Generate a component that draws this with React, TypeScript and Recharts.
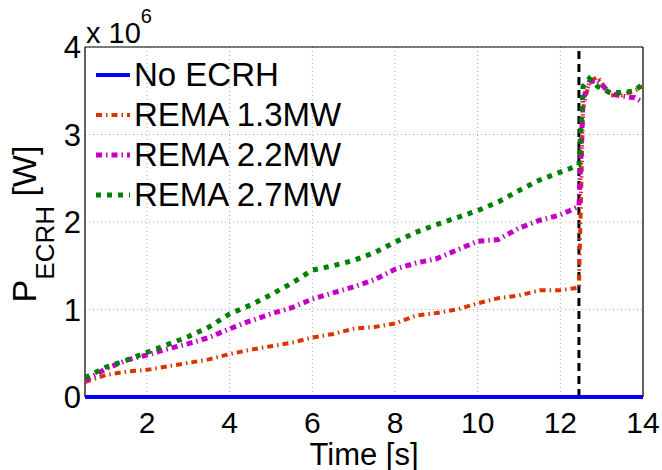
import {
  LineChart,
  Line,
  XAxis,
  YAxis,
  CartesianGrid,
  ReferenceLine,
  Legend,
} from 'recharts'

// time axis [s]
const time = [
  0.5, 1, 1.5, 2, 2.5, 3, 3.5, 4, 4.5, 5, 5.5, 6, 6.5, 7, 7.5, 8, 8.5, 9, 9.5, 10,
  10.5, 11, 11.5, 12, 12.45, 12.55, 12.7, 12.9, 13.2, 13.5, 13.8, 14,
]

// P_ECRH in units of 1e6 W
const noEcrh = time.map(() => 0)
const rema13 = [
  0.17, 0.25, 0.29, 0.31, 0.35, 0.39, 0.43, 0.49, 0.54, 0.58, 0.62, 0.68, 0.72, 0.78, 0.8, 0.84,
  0.93, 0.96, 1.0, 1.07, 1.13, 1.16, 1.22, 1.22, 1.25, 3.3, 3.6, 3.66, 3.45, 3.45, 3.5, 3.55,
]
const rema22 = [
  0.19, 0.32, 0.42, 0.48, 0.55, 0.61, 0.68, 0.78, 0.87, 0.95, 1.02, 1.12, 1.19, 1.26, 1.34, 1.46,
  1.53, 1.58, 1.68, 1.78, 1.8, 1.93, 2.02, 2.08, 2.18, 3.4, 3.6, 3.62, 3.47, 3.44, 3.42, 3.37,
]
const rema27 = [
  0.22, 0.34, 0.42, 0.51, 0.6, 0.69, 0.8, 0.95, 1.05, 1.17, 1.3, 1.45, 1.5, 1.56, 1.65, 1.77,
  1.88, 1.97, 2.05, 2.13, 2.23, 2.36, 2.48, 2.57, 2.65, 3.55, 3.64, 3.55, 3.48, 3.48, 3.5, 3.58,
]

const xDomain = [0.5, 14]
const yDomain = [0, 4]
const xTicks = [2, 4, 6, 8, 10, 12, 14]
const yTicks = [0, 1, 2, 3, 4]
const switchTime = 12.45

const data = time.map((t, i) => ({
  t,
  none: noEcrh[i],
  r13: rema13[i],
  r22: rema22[i],
  r27: rema27[i],
}))

const SERIES = [
  { key: 'none', name: 'No ECRH', color: '#0000ff', width: 4, dash: undefined },
  { key: 'r13', name: 'REMA 1.3MW', color: '#dd3300', width: 4, dash: '6 4 1.5 4' },
  { key: 'r22', name: 'REMA 2.2MW', color: '#c400c4', width: 5, dash: '6 4 1.5 4' },
  { key: 'r27', name: 'REMA 2.7MW', color: '#008000', width: 5, dash: '5 6' },
]

const FONT = "'Liberation Sans', Arial, sans-serif"
const TICK_LINE = { stroke: '#000', strokeWidth: 1.2 }

function LegendBox() {
  return (
    <div style={{ fontFamily: FONT, fontSize: 33, lineHeight: '40px', color: '#000' }}>
      {SERIES.map((s) => (
        <div key={s.key} style={{ display: 'flex', alignItems: 'center', height: 40 }}>
          <svg width={40} height={40} style={{ marginRight: 2 }}>
            <line
              x1={4}
              x2={38}
              y1={20}
              y2={20}
              stroke={s.color}
              strokeWidth={s.width}
              strokeDasharray={s.dash}
            />
          </svg>
          <span>{s.name}</span>
        </div>
      ))}
    </div>
  )
}

function YTitle() {
  return (
    <g fontFamily={FONT} fill="#000">
      <text transform="translate(36,224) rotate(-90)" textAnchor="middle" fontSize={34}>
        P<tspan fontSize={26} dy={18}>ECRH</tspan>
        <tspan dy={-18}> [W]</tspan>
      </text>
      <text x={86} y={43} fontSize={29}>
        x 10<tspan fontSize={20} dy={-20}>6</tspan>
      </text>
    </g>
  )
}

function XTitle() {
  return (
    <text x={364} y={465} textAnchor="middle" fontFamily={FONT} fontSize={31} fill="#000">
      Time [s]
    </text>
  )
}

export default function App() {
  return (
    <div style={{ position: 'absolute', left: 0, top: 0, background: '#fff' }}>
      <LineChart
        width={662}
        height={470}
        data={data}
        margin={{ top: 47, right: 19, left: 25, bottom: 33 }}
        style={{ fontFamily: FONT }}
      >
        <CartesianGrid stroke="#aaaaaa" strokeDasharray="1 3" />
        <XAxis
          dataKey="t"
          type="number"
          domain={xDomain}
          ticks={xTicks}
          allowDataOverflow
          height={40}
          axisLine={false}
          tickLine={false}
          tickSize={2}
          tickMargin={13}
          tick={{ fontSize: 30, fill: '#000' }}
          label={{ content: <XTitle /> }}
        />
        {/* inward tick marks, bottom and top */}
        <XAxis
          xAxisId="bt"
          dataKey="t"
          type="number"
          orientation="bottom"
          mirror
          domain={xDomain}
          ticks={xTicks}
          allowDataOverflow
          height={0}
          axisLine={false}
          tickLine={TICK_LINE}
          tickSize={6}
          tick={false}
        />
        <XAxis
          xAxisId="tt"
          dataKey="t"
          type="number"
          orientation="top"
          mirror
          domain={xDomain}
          ticks={xTicks}
          allowDataOverflow
          height={0}
          axisLine={false}
          tickLine={TICK_LINE}
          tickSize={6}
          tick={false}
        />
        <YAxis
          type="number"
          domain={yDomain}
          ticks={yTicks}
          width={60}
          axisLine={false}
          tickLine={false}
          tickSize={2}
          tickMargin={2}
          tick={{ fontSize: 31, fill: '#000' }}
          label={{ content: <YTitle /> }}
        />
        <YAxis
          yAxisId="lt"
          type="number"
          orientation="left"
          mirror
          domain={yDomain}
          ticks={yTicks}
          width={0}
          axisLine={false}
          tickLine={TICK_LINE}
          tickSize={6}
          tick={false}
        />
        <YAxis
          yAxisId="rt"
          type="number"
          orientation="right"
          mirror
          domain={yDomain}
          ticks={yTicks}
          width={0}
          axisLine={false}
          tickLine={TICK_LINE}
          tickSize={6}
          tick={false}
        />
        <Legend
          layout="vertical"
          align="center"
          verticalAlign="middle"
          wrapperStyle={{ left: 92, top: 55, width: 'auto' }}
          content={<LegendBox />}
        />
        {/* axes box */}
        <ReferenceLine x={xDomain[0]} stroke="#000" strokeWidth={1.2} />
        <ReferenceLine x={xDomain[1]} stroke="#000" strokeWidth={1.2} />
        <ReferenceLine y={yDomain[1]} stroke="#000" strokeWidth={1.2} />
        <ReferenceLine y={yDomain[0]} stroke="#000" strokeWidth={1.2} />
        <ReferenceLine x={switchTime} stroke="#000" strokeWidth={3} strokeDasharray="8 5" />
        {SERIES.map((s) => (
          <Line
            key={s.key}
            dataKey={s.key}
            name={s.name}
            type="linear"
            stroke={s.color}
            strokeWidth={s.width}
            strokeDasharray={s.dash}
            dot={false}
            isAnimationActive={false}
          />
        ))}
      </LineChart>
    </div>
  )
}
